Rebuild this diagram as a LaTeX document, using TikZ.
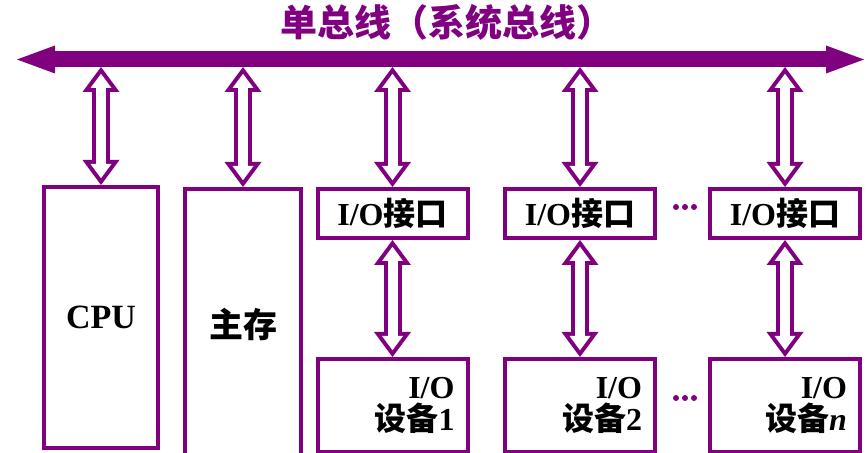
\documentclass[tikz,border=0pt]{standalone}
\usepackage{fontspec}
\setmainfont{Liberation Serif}
\newfontfamily\cjkfont{Noto Sans CJK SC}
\usetikzlibrary{positioning,arrows.meta}

\definecolor{buspurple}{RGB}{128,0,128}
\newcommand{\zh}[1]{{\cjkfont #1}}

\tikzset{
	unit/.style={draw=buspurple, line width=2pt, inner sep=0pt,
		font=\bfseries\fontsize{16pt}{16pt}\selectfont},
	iface/.style={unit, minimum width=75pt, minimum height=24.5pt},
	device/.style={unit, minimum width=75pt, minimum height=46.5pt,
		text width=62pt, align=right},
	bus/.style={buspurple, line width=8pt,
		{Triangle[length=19pt,width=14pt,line width=0pt]}-{Triangle[length=19pt,width=14pt,line width=0pt]}},
	link/.style={buspurple, line width=9pt,
		{Triangle[length=12.5pt,width=18.5pt,line width=0pt]}-{Triangle[length=12.5pt,width=18.5pt,line width=0pt]},
		postaction={draw=white, line width=5pt, shorten <=3.4pt, shorten >=3.4pt,
			{Triangle[length=7.1pt,width=10.5pt,line width=0pt]}-{Triangle[length=7.1pt,width=10.5pt,line width=0pt]}}},
}

\begin{document}
\begin{tikzpicture}[x=0.5pt, y=-0.5pt]
\useasboundingbox (0,0) rectangle (866,453);

% Title
\node [text=buspurple,
	font=\bfseries\fontsize{18.5pt}{20pt}\selectfont
] (title) at (447,22) {\zh{单总线（系统总线）}};

% System bus
\coordinate (busL) at (17,59.5);
\coordinate (busR) at (864,59.5);
\coordinate (busB) at (0,67);
\draw[bus] (busL) -- (busR);

% CPU
\node [unit,
	minimum width=57pt,
	minimum height=130.5pt,
	font=\bfseries\fontsize{17pt}{20pt}\selectfont
] (cpu) at (101,317.5) {CPU};

% Main memory
\node [unit,
	minimum width=58pt,
	minimum height=135.5pt,
	font=\bfseries\fontsize{17pt}{20pt}\selectfont
] (mem) at (243,324.5) {\zh{主存}};

% I/O interfaces
\node [iface] (io1) at (392.5,213.5) {I/O\zh{接口}};
\node [iface] (io2) at (580,213.5) {I/O\zh{接口}};
\node [iface] (ion) at (785,213.5) {I/O\zh{接口}};

% I/O devices
\node [device, below = 58.5pt of io1] (dev1) {I/O\\\zh{设备}1};
\node [device, below = 58.5pt of io2] (dev2) {I/O\\\zh{设备}2};
\node [device, below = 58.5pt of ion] (devn) {I/O\\\zh{设备}\textit{n}};

% Gaps
\foreach \y in {207,398}
	\foreach \dx in {-9,0,9}
		\fill[buspurple] (685+\dx,\y) circle (1.5pt);

% Bus links
\draw[link] (cpu.north |- busB) -- (cpu.north);
\draw[link] (mem.north |- busB) -- (mem.north);
\draw[link] (io1.north |- busB) -- (io1.north);
\draw[link] (io2.north |- busB) -- (io2.north);
\draw[link] (ion.north |- busB) -- (ion.north);

% Interface to device links
\draw[link] (io1.south) -- (dev1.north);
\draw[link] (io2.south) -- (dev2.north);
\draw[link] (ion.south) -- (devn.north);

\end{tikzpicture}
\end{document}
